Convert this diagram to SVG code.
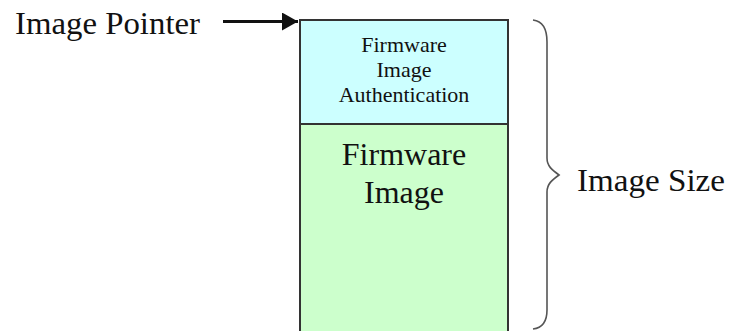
<svg xmlns="http://www.w3.org/2000/svg" width="732" height="331" viewBox="0 0 732 331">
  <defs>
    <style>
      .lbl { font-family: "Liberation Serif", "Times New Roman", serif; fill: #111; }
      .big { font-size: 32px; }
      .small { font-size: 22px; }
      .box { stroke: #333; stroke-width: 2; }
      .conn { stroke: #111; stroke-width: 3; fill: none; }
      .brace { stroke: #555; stroke-width: 1.6; fill: none; }
    </style>
    <marker id="arrowhead" viewBox="0 0 16 18" refX="16" refY="9" markerWidth="16" markerHeight="18" markerUnits="userSpaceOnUse" orient="auto">
      <path d="M0,0 L16,9 L0,18 Z" fill="#111"/>
    </marker>
  </defs>
  <rect width="732" height="331" fill="#fff"/>

  <g id="image-pointer">
    <text class="lbl big" x="15" y="34" textLength="185" lengthAdjust="spacingAndGlyphs">Image Pointer</text>
  </g>

  <g id="firmware-image">
    <rect class="box" x="300" y="124" width="208" height="220" fill="#CCFFCC"/>
    <text class="lbl big" text-anchor="middle" x="404" y="165">Firmware</text>
    <text class="lbl big" text-anchor="middle" x="404" y="203">Image</text>
  </g>

  <g id="firmware-image-authentication">
    <rect class="box" x="300" y="20" width="208" height="104" fill="#CCFFFF"/>
    <text class="lbl small" text-anchor="middle" x="404" y="52">Firmware</text>
    <text class="lbl small" text-anchor="middle" x="404" y="77">Image</text>
    <text class="lbl small" text-anchor="middle" x="404" y="102">Authentication</text>
  </g>

  <g id="image-size">
    <path class="brace" d="M533,20 C542,21 547,28 547,42 L547,158 C547,166 552,170 559,175 C552,180 547,184 547,192 L547,310 C547,322 542,328 533,329"/>
    <text class="lbl big" x="577" y="191" textLength="148" lengthAdjust="spacingAndGlyphs">Image Size</text>
  </g>

  <g id="connectors">
    <line class="conn" x1="223" y1="21.5" x2="298" y2="21.5" marker-end="url(#arrowhead)"/>
  </g>
</svg>
